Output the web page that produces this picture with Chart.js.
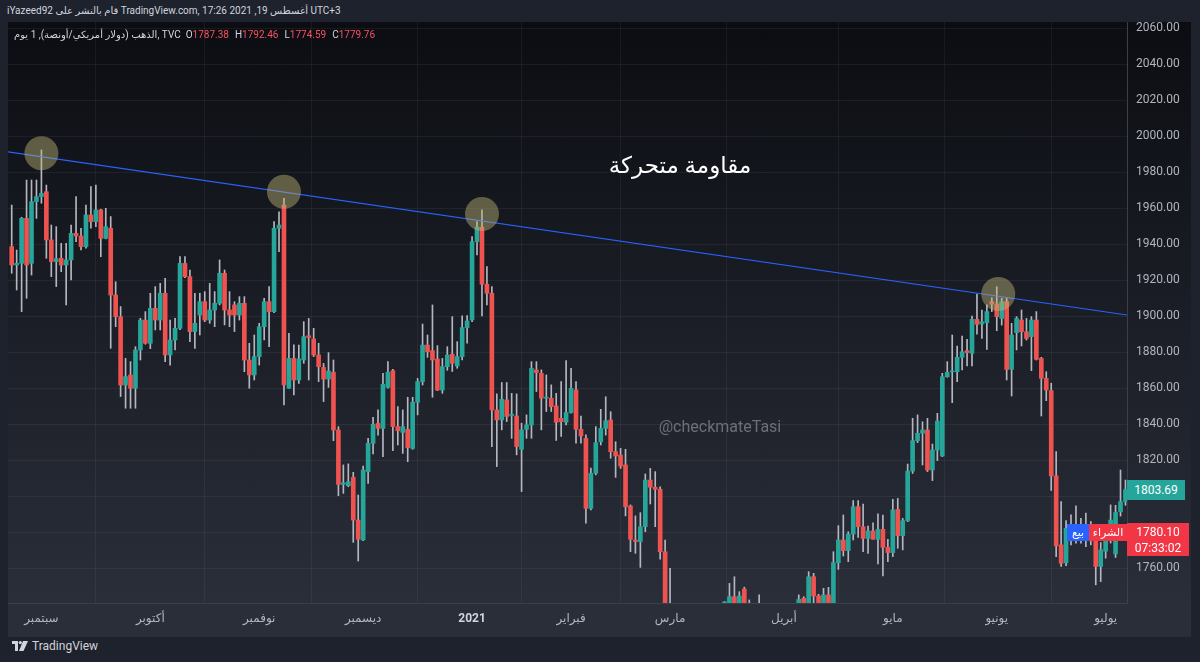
<!DOCTYPE html>
<html>
<head>
<meta charset="utf-8">
<script src="https://cdn.jsdelivr.net/npm/chart.js@4.4.0/dist/chart.umd.min.js"></script>
<style>
html,body{margin:0;padding:0;background:#1e222d;width:1200px;height:662px;overflow:hidden;font-family:Roboto,'DejaVu Sans',sans-serif;}
#pane{position:absolute;left:8px;top:22px;width:1183px;height:581px;background:linear-gradient(to bottom,#0b0d12 0%,#2a2e39 100%);}
#timeband{position:absolute;left:8px;top:603px;width:1183px;height:34px;background:#2a2e39;}
#wrap{position:absolute;left:8px;top:22px;width:1183px;height:615px;}
#header{position:absolute;left:7px;top:5px;font-size:10px;color:#d1d4dc;white-space:nowrap;}
#legend{position:absolute;left:14px;top:29px;font-size:10px;color:#d1d4dc;white-space:nowrap;}
#legend .v{color:#f7525f;margin-right:6px;}
#legend .k{color:#d1d4dc;}
#title{position:absolute;left:600px;top:152px;width:160px;text-align:center;font-size:23px;color:#ffffff;white-space:nowrap;}
#wm{position:absolute;left:640px;top:417px;width:160px;text-align:center;font-size:16px;color:#6c6f7a;white-space:nowrap;}
.badge{position:absolute;color:#fff;font-size:12px;text-align:center;white-space:nowrap;}
#logo{position:absolute;left:12px;top:639px;font-size:12px;color:#d1d4dc;display:flex;align-items:center;gap:4px;}
</style>
</head>
<body>
<div id="pane"></div>
<div id="timeband"></div>
<div id="wrap"><canvas id="c" width="1183" height="615"></canvas></div>
<div id="header">iYazeed92 قام بالنشر على TradingView.com, أغسطس 19, 2021 17:26 UTC+3</div>
<div id="legend"><span>الذهب (دولار أمريكي/أونصة), 1 يوم, TVC</span>&nbsp;&nbsp;<span class="k">O</span><span class="v" id="lo"></span><span class="k">H</span><span class="v" id="lh"></span><span class="k">L</span><span class="v" id="ll"></span><span class="k">C</span><span class="v" id="lc"></span></div>
<div id="title">مقاومة متحركة</div>
<div id="wm">@checkmateTasi</div>
<div class="badge" id="lastBadge" style="left:1127px;top:480px;width:58px;height:20px;line-height:20px;background:#26a69a;"></div>
<div class="badge" style="left:1127px;top:523px;width:62px;height:33px;background:#f23645;line-height:16px;padding-top:1px;box-sizing:border-box;"><div id="curPrice"></div><div>07:33:02</div></div>
<div class="badge" style="left:1067px;top:524px;width:22px;height:17px;line-height:17px;background:#2962ff;font-size:11px;">بيع</div>
<div class="badge" style="left:1089px;top:524px;width:38px;height:17px;line-height:17px;background:#f23645;font-size:11px;">الشراء</div>
<div id="logo"><svg width="16" height="10" viewBox="0 0 16 10"><path d="M0 0h6v10H3V3H0z" fill="#d1d4dc"/><circle cx="8.3" cy="1.6" r="1.6" fill="#d1d4dc"/><path d="M11 0h5l-4.5 10H7z" fill="#d1d4dc"/></svg><span>TradingView</span></div>
<script>
// ---- data (daily candles, index = trading day from left) ----
const opens = [
1938.7,1928.5,1929.4,1954.4,1929.4,1963.7,1966.5,1969.2,1942.4,1930.4,
1932.2,1928.5,1931.3,1946.1,1944.6,1938.7,1956.3,1952.6,1959.1,1943.3,
1948.9,1911.8,1899.8,1861.8,1867.4,1860.0,1881.3,1897.9,1885.0,1904.4,
1897.9,1912.8,1878.5,1886.8,1893.3,1929.4,1922.0,1891.5,1900.7,1908.1,
1897.9,1903.5,1907.2,1923.9,1903.5,1906.3,1900.7,1907.2,1875.7,1867.4,
1877.6,1894.2,1908.1,1902.6,1948.9,1961.8,1860.0,1876.6,1864.6,1875.7,
1889.2,1887.4,1878.5,1871.6,1865.1,1868.9,1836.8,1806.6,1805.9,1810.5,
1786.8,1775.7,1813.7,1829.4,1840.5,1837.7,1860.5,1869.8,1838.7,1835.5,
1837.2,1826.6,1852.2,1863.7,1884.0,1880.9,1876.3,1859.0,1872.0,1878.9,
1872.4,1877.6,1893.7,1898.0,1941.5,1949.5,1917.8,1912.8,1848.0,1842.4,
1853.5,1844.9,1844.6,1826.1,1837.2,1839.6,1870.2,1868.3,1854.5,1854.5,
1850.2,1843.3,1841.1,1846.5,1859.1,1837.2,1832.2,1793.3,1812.8,1830.3,
1837.7,1842.4,1824.8,1822.9,1817.4,1794.6,1775.7,1774.8,1783.1,1809.0,
1805.0,1803.9,1769.2,1734,1723,1738,1715,1697,1700,1683,
1716,1726,1722,1719,1731,1731.5,1744.2,1736,1748.5,1737,
1727,1733,1726,1732,1711,1685,1708,1728,1729,1728,
1743.3,1737,1755.3,1744.6,1732,1745.2,1736,1763.1,1775.7,1769.8,
1779.0,1794.2,1783.1,1776.6,1780.7,1776.1,1781.6,1771.6,1768.7,1792.7,
1778.1,1786.4,1814.0,1830.9,1835.0,1836.8,1814.6,1825.7,1822.4,1866.4,
1869.1,1869.2,1877.2,1880.9,1879.4,1898.3,1895.7,1896.4,1908.1,1906.8,
1898.8,1908.1,1870.5,1890.9,1897.9,1891.4,1888.7,1897.9,1876.6,1865.5,
1858.7,1811.3,1773.0,1763.0,1782.2,1779.0,1779.6,1776.5,1781.0,1775.8,
1761.0,1769.5,1775.7,1768.0,1791.4,1797.0];
const highs = [
1961.8,1936.8,1955.0,1975.7,1975.7,1975.7,1992.4,1972.9,1950.7,1949.8,
1940.5,1940.5,1950.7,1966.5,1948.9,1961.8,1972.0,1972.9,1959.5,1960.0,
1955.4,1919.2,1905.4,1876.6,1874.8,1883.1,1898.9,1902.6,1912.8,1916.5,
1918.3,1921.1,1897.9,1898.9,1933.1,1933.1,1925.7,1912.8,1912.8,1913.7,
1918.3,1913.7,1931.3,1925.7,1913.7,1908.1,1910.9,1910.9,1885.0,1889.6,
1896.1,1910.0,1916.5,1952.6,1958.1,1965.5,1890.5,1884.1,1884.0,1897.0,
1898.8,1893.3,1885.0,1873.8,1879.8,1875.7,1838.7,1817.4,1818.0,1813.3,
1800.7,1816.8,1832.2,1843.9,1848.0,1868.3,1874.8,1870.5,1849.8,1848.0,
1855.0,1855.0,1865.5,1895.7,1889.6,1906.3,1883.7,1876.6,1883.1,1899.8,
1885.9,1900.2,1900.4,1944.3,1952.6,1959.1,1927.6,1916.5,1856.9,1863.2,
1863.2,1857.2,1856.9,1840.6,1845.2,1874.8,1874.8,1870.2,1867.4,1861.9,
1857.2,1863.7,1875.4,1871.1,1863.7,1844.6,1834.1,1815.6,1838.7,1848.3,
1855.3,1847.0,1830.3,1826.6,1826.1,1795.2,1789.1,1790.9,1812.4,1815.5,
1813.7,1805.3,1775.7,1760,1740,1740.3,1732,1709,1710,1721,
1727,1740.5,1728,1733,1741.5,1751.6,1755.3,1747,1749.5,1742.4,
1739,1745.2,1737,1733,1713,1718,1733,1731,1739,1745.2,
1744.2,1758.1,1757.2,1745.5,1748.9,1749.4,1769.2,1783.7,1789.6,1780.3,
1797.6,1797.6,1795.7,1783.5,1785.3,1790.2,1789.6,1776.1,1798.3,1798.8,
1787.7,1817.9,1843.3,1845.2,1841.4,1843.3,1829.0,1846.1,1868.3,1874.8,
1889.6,1883.5,1889.0,1887.2,1900.1,1912.4,1903.5,1906.3,1910.3,1916.4,
1910.0,1910.0,1896.1,1899.8,1903.5,1898.8,1899.8,1902.6,1877.2,1869.2,
1862.8,1824.8,1797.1,1786.5,1789.7,1794.7,1787.8,1790.6,1786.0,1779.0,
1774.3,1781.3,1795.2,1795.0,1814.6,1809.0];
const lows = [
1923.9,1914.6,1902.6,1910.0,1922.9,1954.4,1962.8,1932.2,1922.0,1916.5,
1924.8,1906.3,1920.2,1941.5,1936.8,1937.8,1948.9,1949.8,1933.1,1943.0,
1882.2,1894.2,1855.4,1848.9,1848.9,1848.9,1875.7,1884.5,1882.0,1892.4,
1892.4,1874.8,1872.9,1881.3,1892.5,1921.5,1885.9,1882.2,1889.6,1897.0,
1896.1,1894.2,1906.3,1895.2,1894.2,1891.5,1897.9,1869.2,1860.0,1864.6,
1872.9,1886.8,1883.1,1902.0,1935.9,1850.7,1860.0,1856.3,1862.7,1873.9,
1864.6,1877.6,1863.7,1852.6,1860.5,1830.9,1800.3,1801.6,1805.3,1774.4,
1764.0,1775.3,1807.2,1823.5,1834.0,1822.0,1860.0,1825.3,1828.5,1823.8,
1819.2,1826.1,1845.2,1861.8,1877.2,1855.0,1858.7,1857.2,1870.0,1869.3,
1871.1,1875.8,1885.0,1897.0,1934.1,1900.2,1906.3,1827.6,1816.5,1836.9,
1841.5,1832.2,1823.0,1802.6,1832.2,1832.2,1858.2,1836.9,1847.1,1847.1,
1831.0,1833.2,1839.6,1846.1,1829.5,1829.5,1785.0,1792.4,1811.9,1828.5,
1834.0,1821.1,1810.5,1815.5,1789.1,1769.2,1768.3,1760.5,1780.3,1795.7,
1783.1,1765.0,1717,1717,1705,1710,1687,1687,1676,1681,
1708,1718,1700,1716,1723,1724,1727,1727,1726,1722,
1723,1720,1722,1705,1684,1678,1705,1725,1721,1725,
1731,1733,1738,1727,1730,1734,1735,1759.4,1766.8,1763.7,
1775.7,1777.2,1769.2,1768.3,1776.1,1762.4,1755.7,1763.7,1766.5,1771.1,
1770.2,1785.9,1812.7,1829.8,1817.4,1813.7,1808.7,1819.8,1822.0,1866.1,
1852.0,1863.7,1870.2,1872.4,1872.4,1890.1,1887.7,1881.6,1902.6,1892.0,
1895.1,1864.6,1855.7,1881.3,1883.5,1886.8,1869.8,1875.7,1844.6,1853.1,
1803.2,1766.5,1761.0,1761.5,1773.0,1774.0,1774.0,1772.0,1773.0,1750.8,
1752.6,1765.6,1774.0,1766.0,1789.0,1795.0];
const closes = [
1928.5,1929.4,1954.4,1928.5,1963.7,1966.5,1968.3,1942.4,1930.4,1932.0,
1928.5,1931.3,1946.1,1944.6,1938.7,1956.3,1952.6,1959.1,1943.3,1949.8,
1911.8,1899.8,1861.8,1866.5,1860.0,1881.3,1897.9,1885.0,1904.4,1897.9,
1912.8,1878.5,1886.8,1893.3,1929.4,1922.0,1891.5,1896.1,1908.1,1897.9,
1903.5,1907.2,1923.9,1903.5,1900.7,1900.7,1907.2,1875.7,1867.4,1877.6,
1894.2,1908.1,1902.6,1948.9,1950.7,1861.8,1876.6,1864.6,1876.3,1888.7,
1888.1,1878.5,1872.0,1865.1,1869.6,1836.8,1806.6,1807.5,1808.1,1786.8,
1776.1,1814.6,1829.4,1840.0,1837.7,1862.2,1868.9,1838.7,1836.4,1838.7,
1827.0,1852.2,1863.7,1884.0,1880.3,1875.7,1859.0,1872.0,1878.5,1873.9,
1877.6,1893.7,1897.4,1941.5,1949.5,1917.8,1912.8,1848.0,1842.4,1853.9,
1844.3,1845.6,1827.6,1836.9,1839.6,1871.1,1868.7,1854.5,1855.0,1849.8,
1841.1,1841.5,1846.5,1860.0,1837.2,1833.5,1793.3,1812.8,1829.8,1837.7,
1842.0,1824.8,1822.4,1816.8,1794.2,1776.1,1774.8,1783.1,1809.0,1805.0,
1803.9,1769.2,1734,1723,1738,1715,1697,1700,1683,1716,
1726,1722,1719,1731,1731.5,1744.2,1736,1744.6,1737,1727,
1733,1726,1732,1711,1685,1708,1728,1729,1728,1742.7,
1737,1755.3,1744.6,1732,1745.2,1736,1763.1,1775.7,1769.8,1779.0,
1794.2,1783.1,1776.6,1780.7,1776.1,1781.6,1771.6,1768.7,1792.4,1778.1,
1786.4,1814.0,1830.9,1835.0,1836.8,1814.6,1825.7,1841.8,1866.4,1868.8,
1869.6,1877.2,1880.3,1879.8,1898.3,1895.5,1897.0,1902.6,1906.8,1899.8,
1908.1,1870.5,1889.6,1898.8,1891.4,1887.7,1897.9,1876.1,1865.5,1859.0,
1811.3,1772.4,1762.8,1782.2,1779.0,1779.6,1776.5,1781.0,1778.0,1761.0,
1770.2,1775.8,1786.8,1791.0,1797.0,1803.69];

// time-axis ticks (candle index of first trading day of each month) and labels
const monthTickIdx = [6, 28, 50, 71, 93, 113, 133, 156, 178, 199, 221];
const monthLabels = ['سبتمبر','أكتوبر','نوفمبر','ديسمبر','2021','فبراير','مارس','أبريل','مايو','يونيو','يوليو'];
const yearTickIdx = 93;
// price axis ticks
const priceTicks = [2060,2040,2020,2000,1980,1960,1940,1920,1900,1880,1860,1840,1820,1800,1780,1760];
// descending resistance trend line (candle index, price)
const trendX = [-0.75, 225.31];
const trendY = [1991.3, 1900.7];
// highlighted touch points (candle index, price)
const circleX = [6, 55, 95, 199.3];
const circleY = [1990.6, 1969.2, 1956.8, 1912.4];
// legend values and current price
const legendOHLC = [1787.38, 1792.46, 1774.59, 1779.76];
const currentPrice = 1780.10;

// ---- build ----
const UP = '#26a69a', DOWN = '#ef5350';
const idx = opens.map((_, i) => i);
const wickData = idx.map(i => ({x: i, y: [lows[i], highs[i]]}));
const bodyData = idx.map(i => ({x: i, y: [Math.min(opens[i], closes[i]), Math.max(opens[i], closes[i])]}));
const bodyColors = idx.map(i => closes[i] >= opens[i] ? UP : DOWN);

document.getElementById('lo').textContent = legendOHLC[0].toFixed(2);
document.getElementById('lh').textContent = legendOHLC[1].toFixed(2);
document.getElementById('ll').textContent = legendOHLC[2].toFixed(2);
document.getElementById('lc').textContent = legendOHLC[3].toFixed(2);
document.getElementById('lastBadge').textContent = closes[closes.length - 1].toFixed(2);
document.getElementById('curPrice').textContent = currentPrice.toFixed(2);

const FONT = "Roboto, 'DejaVu Sans', sans-serif";

new Chart(document.getElementById('c'), {
  type: 'bar',
  data: {
    datasets: [
      {type: 'bubble', data: circleX.map((x, i) => ({x: x, y: circleY[i], r: 17})),
       backgroundColor: 'rgba(190,182,120,0.45)', borderWidth: 0, order: 0},
      {type: 'line', data: trendX.map((x, i) => ({x: x, y: trendY[i]})),
       borderColor: '#2962ff', borderWidth: 1.2, pointRadius: 0, fill: false, order: 1},
      {type: 'bar', data: bodyData, backgroundColor: bodyColors, barThickness: 4,
       grouped: false, minBarLength: 1, order: 2},
      {type: 'bar', data: wickData, backgroundColor: '#b4b7c0', barThickness: 1,
       grouped: false, order: 3}
    ]
  },
  options: {
    responsive: false,
    animation: false,
    events: [],
    layout: {padding: 0, autoPadding: false},
    plugins: {legend: {display: false}, tooltip: {enabled: false}, title: {display: false}},
    scales: {
      x: {
        type: 'linear', min: trendX[0], max: trendX[1], offset: false,
        afterBuildTicks: s => { s.ticks = monthTickIdx.map(v => ({value: v})); },
        afterFit: s => { s.height = 34; s.paddingLeft = 0; s.paddingRight = 0; },
        grid: {color: 'rgba(255,255,255,0.05)', drawTicks: false},
        border: {color: '#3b3f4a'},
        ticks: {
          autoSkip: false, maxRotation: 0, padding: 9,
          color: c => (c.tick && c.tick.value === yearTickIdx) ? '#d1d4dc' : '#b2b5be',
          font: c => ({family: FONT, size: 12, weight: (c.tick && c.tick.value === yearTickIdx) ? 'bold' : 'normal'}),
          callback: (v, i) => monthLabels[i]
        }
      },
      y: {
        position: 'right', min: 1740.7, max: 2063.5,
        afterBuildTicks: s => { s.ticks = priceTicks.map(v => ({value: v})); },
        afterFit: s => { s.width = 64; s.paddingTop = 0; s.paddingBottom = 0; },
        grid: {color: 'rgba(255,255,255,0.055)', drawTicks: false},
        border: {color: '#3b3f4a'},
        ticks: {padding: 9, color: '#b2b5be', font: {family: FONT, size: 12},
          callback: v => Number(v).toFixed(2)}
      }
    }
  }
});
</script>
</body>
</html>
